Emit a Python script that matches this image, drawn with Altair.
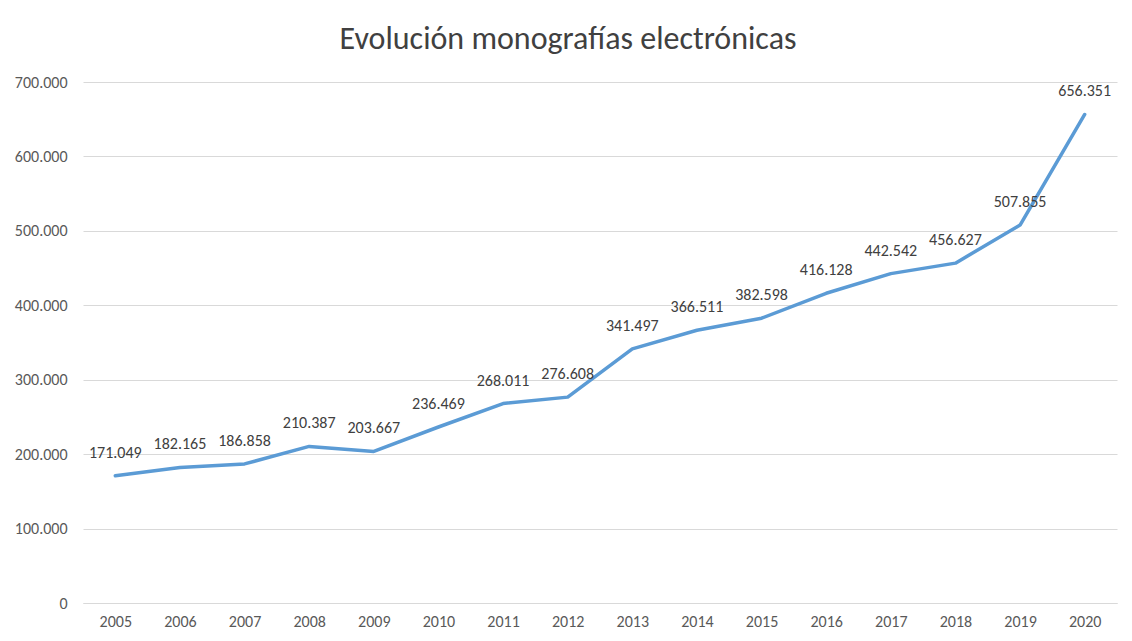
import altair as alt
import pandas as pd

years = [str(y) for y in range(2005, 2021)]
values = [171049, 182165, 186858, 210387, 203667, 236469, 268011, 276608,
          341497, 366511, 382598, 416128, 442542, 456627, 507855, 656351]

df = pd.DataFrame({"year": years, "value": values})

FONT = "Carlito, Open Sans, sans-serif"

x = alt.X("year:O", title=None,
          scale=alt.Scale(type="point", padding=0.5),
          axis=alt.Axis(labelAngle=0, ticks=False, domain=True, domainColor="#d9d9d9",
                        labelPadding=10, labelColor="#595959", labelFontSize=16, labelFont=FONT))
y = alt.Y("value:Q", title=None,
          scale=alt.Scale(domain=[0, 700000], nice=False),
          axis=alt.Axis(values=list(range(0, 700001, 100000)), format=",d", ticks=False,
                        domain=False, grid=True, gridColor="#d9d9d9", labelPadding=16,
                        labelColor="#595959", labelFontSize=16, labelFont=FONT))

base = alt.Chart(df).encode(x=x, y=y)

line = base.mark_line(color="#5B9BD5", strokeWidth=3.5, strokeCap="round", strokeJoin="round")
labels = base.mark_text(dy=-23, fontSize=16, color="#404040", font=FONT).encode(
    text=alt.Text("value:Q", format=",d"))

chart = (line + labels).properties(
    width=1034, height=521,
    autosize=alt.AutoSizeParams(type="none"),
    padding={"left": 75, "top": 74, "right": 7, "bottom": 30},
    title=alt.TitleParams("Evolución monografías electrónicas", fontSize=32, font=FONT,
                          fontWeight="normal", color="#404040", anchor="middle",
                          dx=-32, offset=18),
).configure(
    locale={"number": {"decimal": ",", "thousands": ".", "grouping": [3], "currency": ["", "€"]}}
).configure_view(stroke=None)

chart.save("out.html", embed_options={"renderer": "svg", "actions": False})
